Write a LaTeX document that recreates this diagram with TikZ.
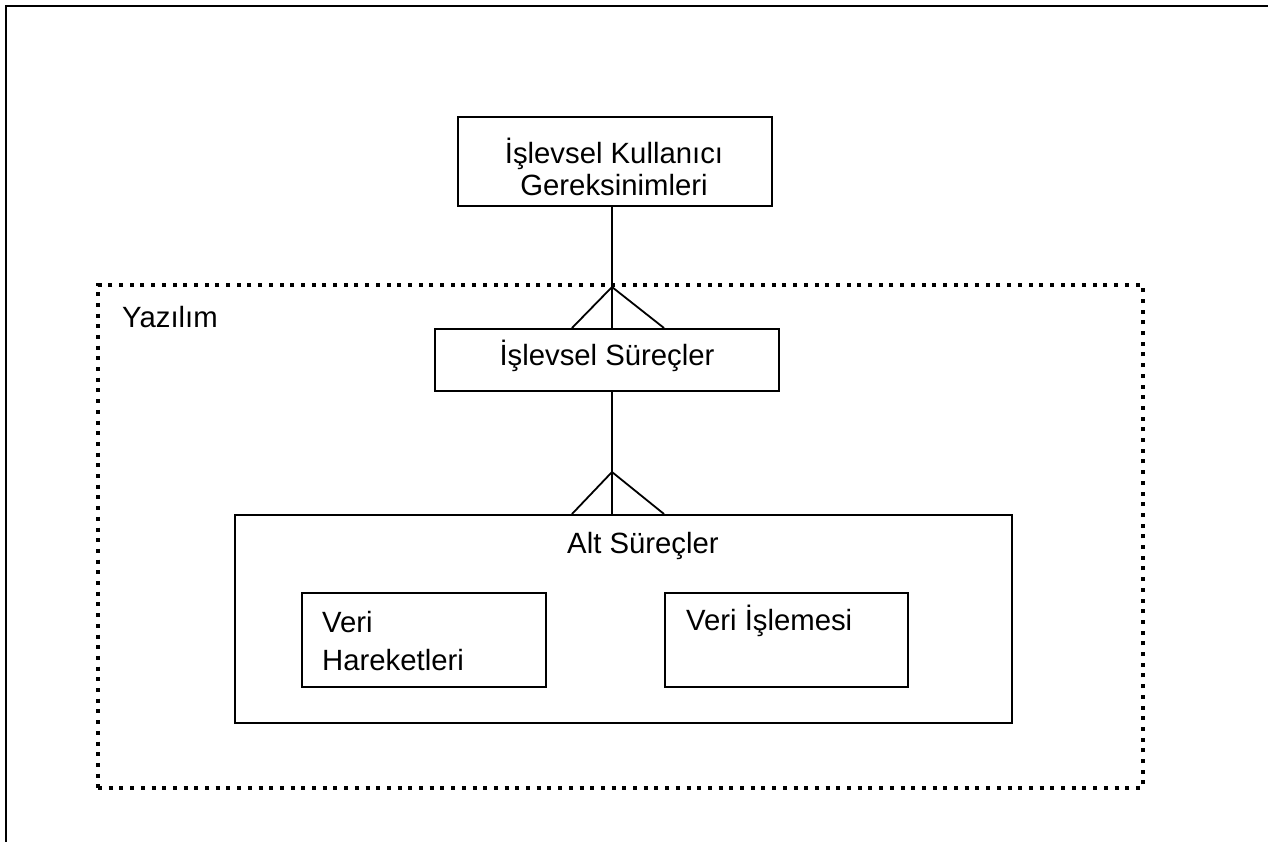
\documentclass[tikz,border=0pt]{standalone}
\usepackage{fontspec}
\setmainfont{Liberation Sans}
\begin{document}
\begin{tikzpicture}[x=1pt,y=-1pt,
  box/.style={draw, line width=2pt, inner sep=0pt, rectangle},
  lbl/.style={inner sep=0pt, font=\fontsize{29.3}{32}\selectfont},
  link/.style={line width=1.8pt},
  frame/.style={line width=2.8pt},
  zone/.style={draw, inner sep=0pt, line width=4pt, dash pattern=on 4pt off 6.7pt}]
\useasboundingbox (0,0) rectangle (1268,841);
\fill[white] (0,0) rectangle (1268,841);

% page frame (left and top edges)
\coordinate (fBL) at (6,845);
\coordinate (fTL) at (6,6);
\coordinate (fTR) at (1272,6);
\draw[frame] (fBL) -- (fTL) -- (fTR);

% software boundary
\node[zone, minimum width=1045, minimum height=503] (sw) at (620.5,536.5) {};
\node[lbl, anchor=base west] (swT) at (122,327) {Yazılım};

% boxes
\node[box, minimum width=314, minimum height=89] (req) at (615,161.5) {};
\node[lbl, anchor=base] (reqA) at (614,163) {İşlevsel Kullanıcı};
\node[lbl, anchor=base] (reqB) at (614,195) {Gereksinimleri};

\node[box, minimum width=344, minimum height=62] (proc) at (607,360) {};
\node[lbl, anchor=base] (procT) at (607,365) {İşlevsel Süreçler};

\node[box, minimum width=777, minimum height=208] (sub) at (623.5,619) {};
\node[lbl, anchor=base west] (subT) at (567,553) {Alt Süreçler};

\node[box, minimum width=244, minimum height=94] (mov) at (424,640) {};
\node[lbl, anchor=base west] (movA) at (322,632) {Veri};
\node[lbl, anchor=base west] (movB) at (322,670) {Hareketleri};

\node[box, minimum width=243, minimum height=94] (dp) at (786.5,640) {};
\node[lbl, anchor=base west] (dpT) at (686,630) {Veri İşlemesi};

% one-to-many links (crow's feet)
\coordinate (c1) at (612,287);
\coordinate (c1L) at (572,0);
\coordinate (c1R) at (664,0);
\draw[link] (req.south -| c1) -- (proc.north -| c1);
\draw[link] (proc.north -| c1L) -- (c1) -- (proc.north -| c1R);

\coordinate (c2) at (612,472);
\draw[link] (proc.south -| c2) -- (sub.north -| c2);
\draw[link] (sub.north -| c1L) -- (c2) -- (sub.north -| c1R);
\end{tikzpicture}
\end{document}
